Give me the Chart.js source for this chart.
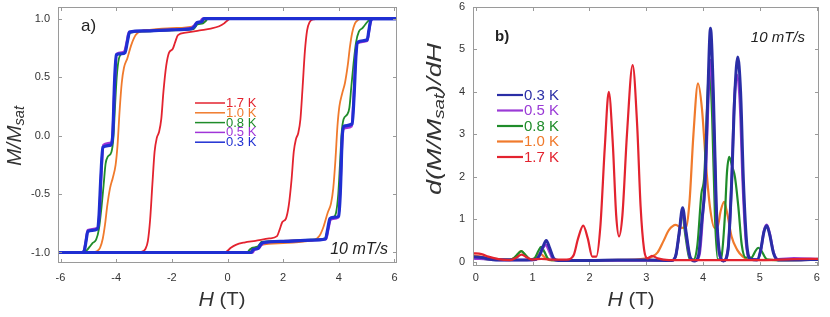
<!DOCTYPE html>
<html>
<head>
<title>Hysteresis</title>
<script src="https://cdn.jsdelivr.net/npm/chart.js@4.4.0/dist/chart.umd.min.js"></script>
<style>
    body { margin: 0; background: #fff; overflow: hidden; }
    .wrap { display: flex; width: 830px; height: 317px; }
</style>
</head>
<body>
<div class="wrap">
    <canvas id="loopChart" width="415" height="317"></canvas>
    <canvas id="derivChart" width="415" height="317"></canvas>
</div>

<script>
    // temperatures and colours
    const temps = ['0.3 K', '0.5 K', '0.8 K', '1.0 K', '1.7 K'];
    const loopColors = ['#1f2fd2', '#a035d8', '#1f8c2a', '#f07a2c', '#e3232f'];
    const derivColors = ['#2a2ea6', '#9a3ad6', '#1f8c2a', '#f07a2c', '#e3232f'];

    // tick labels
    const loopXTicks = [-6, -4, -2, 0, 2, 4, 6];
    const loopYTicks = [-1.0, -0.5, 0.0, 0.5, 1.0];
    const derivXTicks = [0, 1, 2, 3, 4, 5, 6];
    const derivYTicks = [0, 1, 2, 3, 4, 5, 6];

    // panel a) M/Msat vs H, sweep down (from +6) and sweep up (from -6)  [H, M]
    const down03 = [[6.1,1.0],[-0.85,1.0],[-0.92,0.975],[-1.1,0.965],[-1.18,0.935],[-1.28,0.915],[-2.0,0.905],[-3.0,0.895],[-3.52,0.885],[-3.6,0.8],[-3.68,0.71],[-3.8,0.70],[-4.0,0.69],[-4.06,0.45],[-4.12,0.02],[-4.18,-0.08],[-4.48,-0.10],[-4.55,-0.35],[-4.62,-0.7],[-4.68,-0.8],[-5.02,-0.82],[-5.08,-0.9],[-5.14,-0.98],[-5.22,-1.0],[-6.1,-1.0]];
    const up03 = [[-6.1,-1.0],[0.85,-1.0],[0.92,-0.975],[1.1,-0.965],[1.18,-0.935],[1.28,-0.915],[2.0,-0.905],[3.0,-0.895],[3.52,-0.885],[3.6,-0.8],[3.68,-0.71],[3.8,-0.70],[4.0,-0.69],[4.06,-0.45],[4.12,-0.02],[4.18,0.08],[4.48,0.10],[4.55,0.35],[4.62,0.7],[4.68,0.8],[5.02,0.82],[5.08,0.9],[5.14,0.98],[5.22,1.0],[6.1,1.0]];

    const down05 = [[6.1,1.0],[-0.9,1.0],[-0.97,0.975],[-1.12,0.965],[-1.2,0.94],[-1.3,0.92],[-2.0,0.905],[-3.0,0.895],[-3.54,0.885],[-3.62,0.8],[-3.7,0.72],[-3.8,0.71],[-3.98,0.70],[-4.05,0.45],[-4.12,0.05],[-4.18,-0.06],[-4.46,-0.08],[-4.53,-0.3],[-4.6,-0.66],[-4.67,-0.79],[-5.02,-0.81],[-5.08,-0.89],[-5.15,-0.98],[-5.23,-1.0],[-6.1,-1.0]];
    const up05 = [[-6.1,-1.0],[0.9,-1.0],[0.97,-0.975],[1.12,-0.965],[1.2,-0.94],[1.3,-0.92],[2.0,-0.905],[3.0,-0.895],[3.54,-0.885],[3.62,-0.8],[3.7,-0.72],[3.8,-0.71],[3.98,-0.70],[4.05,-0.45],[4.12,-0.05],[4.18,0.06],[4.46,0.08],[4.53,0.3],[4.6,0.66],[4.67,0.79],[5.02,0.81],[5.08,0.89],[5.15,0.98],[5.23,1.0],[6.1,1.0]];

    const down08 = [[6.1,1.0],[-0.7,1.0],[-0.78,0.98],[-0.88,0.96],[-1.08,0.95],[-1.15,0.93],[-1.22,0.91],[-2.0,0.9],[-3.0,0.89],[-3.5,0.88],[-3.58,0.82],[-3.68,0.73],[-3.8,0.7],[-3.9,0.66],[-3.98,0.5],[-4.04,0.25],[-4.1,-0.02],[-4.17,-0.14],[-4.3,-0.18],[-4.38,-0.24],[-4.45,-0.42],[-4.53,-0.62],[-4.62,-0.8],[-4.72,-0.89],[-4.85,-0.92],[-4.95,-0.95],[-5.05,-0.98],[-5.15,-1.0],[-6.1,-1.0]];
    const up08 = [[-6.1,-1.0],[0.7,-1.0],[0.78,-0.98],[0.88,-0.96],[1.08,-0.95],[1.15,-0.93],[1.22,-0.91],[2.0,-0.9],[3.0,-0.89],[3.5,-0.88],[3.58,-0.82],[3.68,-0.73],[3.8,-0.7],[3.9,-0.66],[3.98,-0.5],[4.04,-0.25],[4.1,0.02],[4.17,0.14],[4.3,0.18],[4.38,0.24],[4.45,0.42],[4.53,0.62],[4.62,0.8],[4.72,0.89],[4.85,0.92],[4.95,0.95],[5.05,0.98],[5.15,1.0],[6.1,1.0]];

    const down10 = [[6.1,1.0],[-0.72,1.0],[-0.82,0.975],[-0.95,0.965],[-1.12,0.955],[-1.22,0.935],[-2.0,0.92],[-2.8,0.905],[-3.1,0.895],[-3.3,0.86],[-3.45,0.78],[-3.6,0.66],[-3.72,0.58],[-3.8,0.45],[-3.88,0.2],[-3.95,-0.08],[-4.02,-0.25],[-4.12,-0.36],[-4.22,-0.45],[-4.32,-0.6],[-4.4,-0.76],[-4.48,-0.88],[-4.58,-0.96],[-4.7,-0.99],[-4.85,-1.0],[-6.1,-1.0]];
    const up10 = [[-6.1,-1.0],[0.72,-1.0],[0.82,-0.975],[0.95,-0.965],[1.12,-0.955],[1.22,-0.935],[2.0,-0.92],[2.8,-0.905],[3.1,-0.895],[3.3,-0.86],[3.45,-0.78],[3.6,-0.66],[3.72,-0.58],[3.8,-0.45],[3.88,-0.2],[3.95,0.08],[4.02,0.25],[4.12,0.36],[4.22,0.45],[4.32,0.6],[4.4,0.76],[4.48,0.88],[4.58,0.96],[4.7,0.99],[4.85,1.0],[6.1,1.0]];

    const down17 = [[6.1,1.0],[0.12,1.0],[0.0,0.985],[-0.12,0.96],[-0.3,0.935],[-0.6,0.915],[-1.0,0.9],[-1.5,0.88],[-1.78,0.86],[-1.88,0.8],[-1.97,0.74],[-2.1,0.71],[-2.2,0.6],[-2.3,0.38],[-2.38,0.14],[-2.46,0.03],[-2.54,-0.02],[-2.62,-0.14],[-2.7,-0.42],[-2.78,-0.72],[-2.86,-0.9],[-2.95,-0.97],[-3.1,-0.995],[-3.3,-1.0],[-6.1,-1.0]];
    const up17 = [[-6.1,-1.0],[-0.12,-1.0],[0.0,-0.985],[0.12,-0.96],[0.3,-0.935],[0.6,-0.915],[1.0,-0.9],[1.5,-0.88],[1.78,-0.86],[1.88,-0.8],[1.97,-0.74],[2.1,-0.71],[2.2,-0.6],[2.3,-0.38],[2.38,-0.14],[2.46,-0.03],[2.54,0.02],[2.62,0.14],[2.7,0.42],[2.78,0.72],[2.86,0.9],[2.95,0.97],[3.1,0.995],[3.3,1.0],[6.1,1.0]];

    // panel b) d(M/Msat)/dH vs H  [H, dM/dH]
    const deriv03 = [[-0.05,0.12],[0.1,0.1],[0.3,0.05],[0.6,0.04],[0.9,0.04],[1.05,0.05],[1.12,0.15],[1.18,0.35],[1.24,0.5],[1.3,0.32],[1.37,0.08],[1.45,0.03],[2.0,0.03],[2.5,0.04],[3.0,0.04],[3.45,0.03],[3.52,0.15],[3.58,0.7],[3.64,1.27],[3.7,0.7],[3.77,0.12],[3.85,0.02],[3.92,0.15],[3.98,1.0],[4.03,1.75],[4.08,3.8],[4.13,5.5],[4.18,4.0],[4.23,1.4],[4.29,0.2],[4.36,0.02],[4.44,0.3],[4.5,1.8],[4.56,4.0],[4.61,4.82],[4.66,4.0],[4.71,1.9],[4.77,0.4],[4.84,0.06],[4.95,0.04],[5.01,0.25],[5.07,0.7],[5.12,0.85],[5.17,0.65],[5.24,0.2],[5.32,0.04],[5.6,0.04],[6.04,0.06]];
    const deriv05 = [[-0.05,0.08],[0.3,0.05],[0.9,0.04],[1.05,0.05],[1.12,0.15],[1.18,0.32],[1.23,0.4],[1.29,0.25],[1.36,0.06],[1.45,0.03],[3.45,0.03],[3.52,0.15],[3.58,0.65],[3.64,1.2],[3.7,0.65],[3.77,0.1],[3.86,0.02],[3.94,0.2],[4.0,1.2],[4.05,2.2],[4.09,3.8],[4.13,4.75],[4.18,3.6],[4.23,1.3],[4.29,0.15],[4.36,0.02],[4.44,0.3],[4.5,1.8],[4.55,3.8],[4.6,4.4],[4.65,3.7],[4.7,1.8],[4.76,0.4],[4.84,0.06],[4.96,0.06],[5.02,0.3],[5.07,0.72],[5.12,0.87],[5.17,0.68],[5.24,0.22],[5.32,0.06],[5.6,0.08],[6.04,0.06]];
    const deriv08 = [[-0.05,0.1],[0.3,0.05],[0.6,0.05],[0.68,0.1],[0.75,0.2],[0.8,0.25],[0.86,0.18],[0.95,0.06],[1.03,0.08],[1.1,0.25],[1.15,0.35],[1.2,0.25],[1.28,0.06],[1.4,0.03],[3.45,0.03],[3.52,0.15],[3.58,0.65],[3.63,1.15],[3.69,0.6],[3.76,0.08],[3.83,0.05],[3.9,0.4],[3.97,1.6],[4.02,2.0],[4.07,3.6],[4.11,4.63],[4.16,3.4],[4.21,1.0],[4.26,0.05],[4.32,0.1],[4.38,1.0],[4.42,2.1],[4.46,2.47],[4.51,2.25],[4.56,2.0],[4.62,1.3],[4.68,0.4],[4.75,0.1],[4.85,0.1],[4.92,0.25],[4.97,0.33],[5.03,0.25],[5.12,0.06],[5.3,0.04],[6.04,0.05]];
    const deriv10 = [[-0.05,0.15],[0.2,0.1],[0.4,0.06],[0.6,0.05],[0.7,0.12],[0.8,0.25],[0.88,0.14],[0.97,0.05],[1.06,0.1],[1.13,0.2],[1.2,0.12],[1.3,0.04],[2.0,0.04],[2.8,0.05],[3.0,0.08],[3.1,0.12],[3.2,0.22],[3.3,0.48],[3.4,0.75],[3.52,0.87],[3.62,0.8],[3.7,0.82],[3.76,1.4],[3.83,3.0],[3.91,4.2],[3.98,3.6],[4.05,2.3],[4.12,1.3],[4.2,0.8],[4.26,0.85],[4.31,1.2],[4.37,1.41],[4.43,1.1],[4.5,0.6],[4.6,0.28],[4.7,0.12],[4.8,0.05],[5.5,0.04],[6.04,0.05]];
    const deriv17 = [[-0.05,0.2],[0.1,0.18],[0.22,0.12],[0.4,0.06],[0.6,0.04],[0.72,0.1],[0.8,0.17],[0.9,0.1],[1.0,0.05],[1.15,0.07],[1.3,0.05],[1.6,0.05],[1.72,0.15],[1.8,0.55],[1.89,0.85],[1.97,0.55],[2.05,0.12],[2.12,0.12],[2.19,0.8],[2.27,2.7],[2.34,4.0],[2.41,2.8],[2.47,1.1],[2.52,0.6],[2.58,1.1],[2.66,3.0],[2.76,4.63],[2.84,3.2],[2.9,1.3],[2.96,0.3],[3.02,0.08],[3.1,0.14],[3.2,0.08],[3.4,0.04],[4.0,0.04],[5.0,0.04],[5.6,0.06],[6.04,0.07]];

    const FONT = '"Liberation Sans", Arial, Helvetica, sans-serif';

    function pts(arr) {
        return arr.map(p => ({x: p[0], y: p[1]}));
    }

    // draws runs of text (italic parts, subscripts) centred on x,y;
    // optional target width stretches the whole string along its baseline
    function drawRuns(ctx, runs, x, y, target) {
        let w = 0;
        runs.forEach(r => { ctx.font = r.f; w += ctx.measureText(r.t).width; });
        ctx.save();
        ctx.translate(x, y);
        if (target) ctx.scale(target / w, 1);
        let cx = -w / 2;
        ctx.textBaseline = 'middle';
        ctx.textAlign = 'left';
        runs.forEach(r => {
            ctx.font = r.f;
            ctx.fillText(r.t, cx, r.dy || 0);
            cx += ctx.measureText(r.t).width;
        });
        ctx.restore();
    }

    // frame + inward ticks on all four sides
    const frameTicks = {
        id: 'frameTicks',
        afterDraw(chart) {
            const {ctx, chartArea: a, scales} = chart;
            ctx.save();
            ctx.strokeStyle = '#9a9a9a';
            ctx.lineWidth = 1;
            ctx.strokeRect(a.left + 0.5, a.top + 0.5, a.right - a.left - 1, a.bottom - a.top - 1);
            ctx.beginPath();
            scales.x.ticks.forEach(t => {
                const x = Math.round(scales.x.getPixelForValue(t.value)) + 0.5;
                ctx.moveTo(x, a.bottom); ctx.lineTo(x, a.bottom - 4);
                ctx.moveTo(x, a.top); ctx.lineTo(x, a.top + 4);
            });
            scales.y.ticks.forEach(t => {
                const y = Math.round(scales.y.getPixelForValue(t.value)) + 0.5;
                ctx.moveTo(a.left, y); ctx.lineTo(a.left + 4, y);
                ctx.moveTo(a.right, y); ctx.lineTo(a.right - 4, y);
            });
            ctx.stroke();
            ctx.restore();
        }
    };

    // legend: short line + coloured label
    function drawLegend(ctx, colors, order, x0, y0, step, len, lw, fontSize) {
        ctx.save();
        order.forEach((i, k) => {
            const y = y0 + k * step;
            ctx.strokeStyle = colors[i];
            ctx.lineWidth = lw;
            ctx.beginPath();
            ctx.moveTo(x0, y); ctx.lineTo(x0 + len, y);
            ctx.stroke();
            ctx.fillStyle = colors[i];
            ctx.font = fontSize + 'px ' + FONT;
            ctx.textAlign = 'left';
            ctx.textBaseline = 'middle';
            ctx.fillText(temps[i], x0 + len + 1, y + 0.5);
        });
        ctx.restore();
    }

    const loopText = {
        id: 'loopText',
        afterDraw(chart) {
            const ctx = chart.ctx;
            ctx.save();
            ctx.fillStyle = '#222';
            ctx.font = '17px ' + FONT;
            ctx.textAlign = 'left';
            ctx.textBaseline = 'middle';
            ctx.fillText('a)', 81, 26);
            ctx.font = 'italic 16px ' + FONT;
            ctx.textAlign = 'right';
            ctx.fillText('10 mT/s', 388, 250);
            ctx.fillStyle = '#333';
            drawRuns(ctx, [{t: 'H', f: 'italic 20px ' + FONT}, {t: ' (T)', f: '19px ' + FONT}], 222, 300, 47);
            ctx.translate(15, 136);
            ctx.rotate(-Math.PI / 2);
            drawRuns(ctx, [{t: 'M/M', f: 'italic 20px ' + FONT}, {t: 'sat', f: 'italic 14px ' + FONT, dy: 5}], 0, 0, 60);
            ctx.restore();
            drawLegend(ctx, loopColors, [4, 3, 2, 1, 0], 195, 103, 9.8, 30, 1.5, 13);
        }
    };

    const derivText = {
        id: 'derivText',
        afterDraw(chart) {
            const ctx = chart.ctx;
            ctx.save();
            ctx.fillStyle = '#222';
            ctx.font = 'bold 15px ' + FONT;
            ctx.textAlign = 'left';
            ctx.textBaseline = 'middle';
            ctx.fillText('b)', 80, 37);
            ctx.font = 'italic 15px ' + FONT;
            ctx.textAlign = 'right';
            ctx.fillText('10 mT/s', 390, 38);
            ctx.fillStyle = '#333';
            drawRuns(ctx, [{t: 'H', f: 'italic 20px ' + FONT}, {t: ' (T)', f: '19px ' + FONT}], 216, 300, 47);
            ctx.translate(20, 119);
            ctx.rotate(-Math.PI / 2);
            drawRuns(ctx, [
                {t: 'd(M/M', f: 'italic 20px ' + FONT},
                {t: 'sat', f: 'italic 14px ' + FONT, dy: 5},
                {t: ')/dH', f: 'italic 20px ' + FONT}
            ], 0, 0, 152);
            ctx.restore();
            drawLegend(ctx, derivColors, [0, 1, 2, 3, 4], 82, 95, 15.5, 26, 2.2, 15);
        }
    };

    const tickFont = {family: FONT, size: 11};

    // drop the label overflow padding so the plot frame sits at the layout padding
    function fixY(s) {
        s.width = 58;
        s.paddingTop = 0;
        s.paddingBottom = 0;
    }

    // panel a): one dataset per sweep, blue drawn on top
    const loopSets = [[down03, up03], [down05, up05], [down08, up08], [down10, up10], [down17, up17]];
    const loopWidths = [3.2, 2.6, 1.8, 1.8, 1.8];
    const loopDatasets = [];
    loopSets.forEach((s, i) => {
        s.forEach((branch, j) => {
            const sorted = branch.slice().sort((p, q) => p[0] - q[0]);
            loopDatasets.push({
                label: temps[i] + (j ? ' up' : ' down'),
                data: pts(sorted),
                showLine: true,
                borderColor: loopColors[i],
                borderWidth: loopWidths[i],
                pointRadius: 0,
                cubicInterpolationMode: 'monotone',
                order: i,
                fill: false
            });
        });
    });

    const loopCtx = document.getElementById('loopChart').getContext('2d');
    const loopChart = new Chart(loopCtx, {
        type: 'scatter',
        data: {datasets: loopDatasets},
        options: {
            responsive: false,
            animation: false,
            layout: {padding: {left: 0, right: 18, top: 7, bottom: 0}},
            plugins: {legend: {display: false}, tooltip: {enabled: false}},
            scales: {
                x: {
                    type: 'linear', min: -6.09, max: 6.09,
                    afterBuildTicks: s => { s.ticks = loopXTicks.map(v => ({value: v})); },
                    afterFit: s => { s.height = 54; },
                    grid: {display: false, drawTicks: false, tickLength: 0},
                    border: {display: false},
                    ticks: {font: tickFont, color: '#333', padding: 8, maxRotation: 0}
                },
                y: {
                    type: 'linear', min: -1.09, max: 1.1,
                    afterBuildTicks: s => { s.ticks = loopYTicks.map(v => ({value: v})); },
                    afterFit: fixY,
                    grid: {display: false, drawTicks: false, tickLength: 0},
                    border: {display: false},
                    ticks: {font: tickFont, color: '#333', padding: 8, callback: v => v.toFixed(1)}
                }
            }
        },
        plugins: [frameTicks, loopText]
    });

    // panel b)
    const derivSets = [deriv03, deriv05, deriv08, deriv10, deriv17];
    const derivWidths = [3, 2.6, 2.2, 2.2, 2.2];
    const drawOrder = [1, 2, 3, 4, 0]; // red on top, then blue, purple ...
    const derivCtx = document.getElementById('derivChart').getContext('2d');
    const derivChart = new Chart(derivCtx, {
        type: 'scatter',
        data: {
            datasets: derivSets.map((s, i) => ({
                label: temps[i],
                data: pts(s),
                showLine: true,
                borderColor: derivColors[i],
                borderWidth: derivWidths[i],
                pointRadius: 0,
                cubicInterpolationMode: 'monotone',
                order: drawOrder[i],
                fill: false
            }))
        },
        options: {
            responsive: false,
            animation: false,
            layout: {padding: {left: 0, right: 11, top: 7, bottom: 0}},
            plugins: {legend: {display: false}, tooltip: {enabled: false}},
            scales: {
                x: {
                    type: 'linear', min: -0.05, max: 6.04,
                    afterBuildTicks: s => { s.ticks = derivXTicks.map(v => ({value: v})); },
                    afterFit: s => { s.height = 51; },
                    grid: {display: false, drawTicks: false, tickLength: 0},
                    border: {display: false},
                    ticks: {font: tickFont, color: '#333', padding: 5, maxRotation: 0}
                },
                y: {
                    type: 'linear', min: -0.1, max: 6,
                    afterBuildTicks: s => { s.ticks = derivYTicks.map(v => ({value: v})); },
                    afterFit: fixY,
                    grid: {display: false, drawTicks: false, tickLength: 0},
                    border: {display: false},
                    ticks: {font: tickFont, color: '#333', padding: 8}
                }
            }
        },
        plugins: [frameTicks, derivText]
    });
</script>
</body>
</html>
